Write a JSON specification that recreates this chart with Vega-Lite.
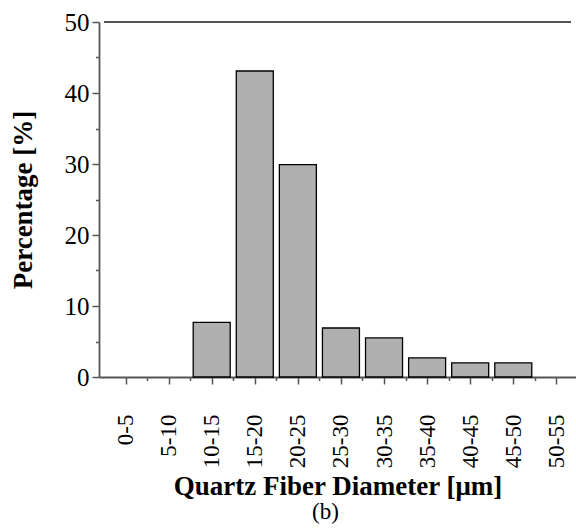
{
  "$schema": "https://vega.github.io/schema/vega-lite/v6.json",
  "width": 477,
  "height": 355,
  "autosize": {"type": "none"},
  "padding": {"left": 99, "top": 22, "right": 0, "bottom": 154},
  "background": "white",
  "config": {
    "view": {"stroke": null},
    "font": "Liberation Serif",
    "axis": {
      "grid": false,
      "domainColor": "#555555",
      "domainWidth": 1.8,
      "tickColor": "#555555",
      "tickWidth": 1.5,
      "labelColor": "black",
      "titleColor": "black",
      "labelFont": "Liberation Serif",
      "titleFont": "Liberation Serif"
    }
  },
  "title": {
    "text": "(b)",
    "orient": "bottom",
    "anchor": "middle",
    "font": "Liberation Serif",
    "fontSize": 23,
    "fontWeight": "normal",
    "color": "black",
    "offset": 1,
    "dx": -12
  },
  "data": {
    "values": [
      {"range": "0-5", "mid": 2.5, "pct": 0},
      {"range": "5-10", "mid": 7.5, "pct": 0},
      {"range": "10-15", "mid": 12.5, "pct": 7.7},
      {"range": "15-20", "mid": 17.5, "pct": 43.1},
      {"range": "20-25", "mid": 22.5, "pct": 29.9},
      {"range": "25-30", "mid": 27.5, "pct": 6.9},
      {"range": "30-35", "mid": 32.5, "pct": 5.5},
      {"range": "35-40", "mid": 37.5, "pct": 2.7},
      {"range": "40-45", "mid": 42.5, "pct": 2.0},
      {"range": "45-50", "mid": 47.5, "pct": 2.0},
      {"range": "50-55", "mid": 52.5, "pct": 0}
    ]
  },
  "layer": [
    {
      "transform": [{"filter": "datum.pct > 0"}],
      "mark": {"type": "bar", "size": 37, "fill": "#b0b0b0", "stroke": "black", "strokeWidth": 1.3},
      "encoding": {
        "x": {
          "field": "mid",
          "type": "quantitative",
          "scale": {"domain": [0, 54.2], "nice": false, "zero": false},
          "axis": {
            "orient": "bottom",
            "values": [2.5, 7.5, 12.5, 17.5, 22.5, 27.5, 32.5, 37.5, 42.5, 47.5, 52.5],
            "labelExpr": "(datum.value - 2.5) + '-' + (datum.value + 2.5)",
            "labelAngle": -90,
            "labelAlign": "right",
            "labelBaseline": "middle",
            "labelFontSize": 23,
            "labelPadding": 30,
            "tickSize": 7,
            "title": "Quartz Fiber Diameter [μm]",
            "titleFontSize": 27,
            "titleFontWeight": "bold",
            "titlePadding": 6
          }
        },
        "y": {
          "field": "pct",
          "type": "quantitative",
          "scale": {"domain": [0, 50], "nice": false},
          "axis": {
            "orient": "left",
            "values": [0, 10, 20, 30, 40, 50],
            "tickSize": 7,
            "labelFontSize": 25,
            "labelPadding": 3,
            "title": "Percentage [%]",
            "titleFontSize": 27,
            "titleFontWeight": "bold",
            "titlePadding": 27
          }
        }
      }
    },
    {
      "mark": {"type": "rule", "color": "#555555", "strokeWidth": 1.8},
      "encoding": {
        "y": {
          "datum": 50,
          "type": "quantitative",
          "axis": {
            "orient": "left",
            "values": [5, 15, 25, 35, 45],
            "labels": false,
            "domain": false,
            "tickSize": 3.5,
            "title": null
          }
        },
        "x": {
          "datum": 0,
          "type": "quantitative",
          "axis": {
            "orient": "bottom",
            "values": [5, 10, 15, 20, 25, 30, 35, 40, 45, 50],
            "labels": false,
            "domain": false,
            "tickSize": 3.5,
            "title": null
          }
        },
        "x2": {"datum": 54.2}
      }
    }
  ],
  "resolve": {"axis": {"x": "independent", "y": "independent"}}
}
